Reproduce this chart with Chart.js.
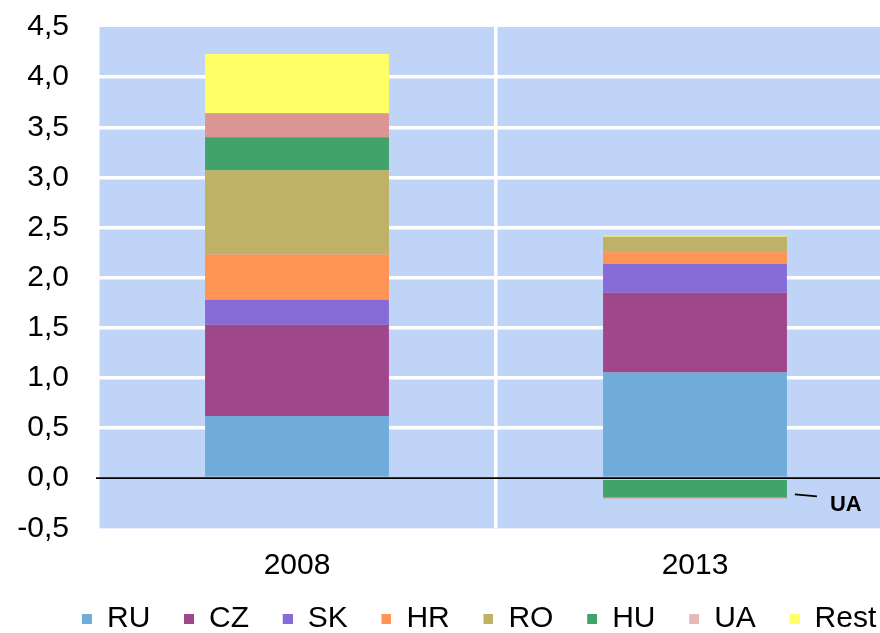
<!DOCTYPE html>
<html>
<head>
<meta charset="utf-8">
<script src="https://cdn.jsdelivr.net/npm/chart.js@4/dist/chart.umd.min.js"></script>
<style>
  html, body { margin: 0; padding: 0; background: #ffffff; overflow: hidden; }
  #wrap { width: 880px; height: 633px; overflow: hidden; position: relative; }
  #c { position: absolute; left: 0; top: 0; }
</style>
</head>
<body>
<div id="wrap"><canvas id="c" width="940" height="644"></canvas></div>
<script>
// ---- data ----
const categories = ['2008', '2013'];
const seriesNames = ['RU', 'CZ', 'SK', 'HR', 'RO', 'HU', 'UA', 'Rest'];
const RU   = [0.62, 1.055];
const CZ   = [0.91, 0.795];
const SK   = [0.25, 0.286];
const HR   = [0.45, 0.117];
const RO   = [0.84, 0.156];
const HU   = [0.33, -0.19];
const UA   = [0.24, -0.012];
const Rest = [0.59, 0.01];
const tickLabels = ['-0,5', '0,0', '0,5', '1,0', '1,5', '2,0', '2,5', '3,0', '3,5', '4,0', '4,5'];
const annotationText = 'UA';

// ---- styles ----
const barColors = ['#6FACD9', '#A0468A', '#876CD8', '#FF9455', '#BFB166', '#41A36A', '#DA9594', '#FFFF66'];
const legendColors = ['#6FACD9', '#A0468A', '#876CD8', '#FF9455', '#BFB166', '#41A36A', '#E8B8B8', '#FFFF66'];
const seriesValues = [RU, CZ, SK, HR, RO, HU, UA, Rest];
const FONT = "'Liberation Sans', Arial, sans-serif";

// legend swatch: an 18x10 slot with a 10x10 square at its right end
function makeSwatch(color) {
  const cv = document.createElement('canvas');
  cv.width = 18; cv.height = 10;
  const g = cv.getContext('2d');
  g.fillStyle = color;
  g.fillRect(8, 0, 10, 10);
  return cv;
}
const swatches = legendColors.map(makeSwatch);

const datasets = seriesNames.map((name, i) => ({
  label: name,
  data: seriesValues[i],
  backgroundColor: barColors[i],
  borderWidth: 0,
  categoryPercentage: 0.462,
  barPercentage: 1.0,
  stack: 's'
}));

const bgPlugin = {
  id: 'plotBg',
  beforeDraw(chart) {
    const { ctx, chartArea: a } = chart;
    ctx.save();
    ctx.fillStyle = '#C0D4F8';
    ctx.fillRect(a.left, a.top, a.right - a.left, a.bottom - a.top);
    ctx.restore();
  }
};

const overlayPlugin = {
  id: 'overlay',
  afterDatasetsDraw(chart) {
    const { ctx, chartArea: a, scales } = chart;
    const y0 = scales.y.getPixelForValue(0);
    ctx.save();
    ctx.strokeStyle = '#000000';
    ctx.lineWidth = 1.7;
    ctx.beginPath();
    ctx.moveTo(a.left - 2, y0);
    ctx.lineTo(a.right, y0);
    ctx.stroke();

    // UA annotation for 2013
    const bar = chart.getDatasetMeta(6).data[1];
    const xs = bar.x + bar.width / 2 + 8;
    const ys = bar.y;
    ctx.lineWidth = 1.8;
    ctx.beginPath();
    ctx.moveTo(xs, ys - 4);
    ctx.lineTo(xs + 22, ys - 2);
    ctx.stroke();
    ctx.fillStyle = '#000000';
    ctx.font = "bold 22px " + FONT;
    ctx.textBaseline = 'middle';
    ctx.textAlign = 'left';
    ctx.fillText(annotationText, xs + 35, ys + 7);
    ctx.restore();
  }
};

new Chart(document.getElementById('c'), {
  type: 'bar',
  data: { labels: categories, datasets },
  options: {
    responsive: false,
    animation: false,
    events: [],
    layout: { padding: { left: 14, right: 3.8, top: 27, bottom: 0 } },
    plugins: {
      tooltip: { enabled: false },
      legend: {
        position: 'bottom',
        labels: {
          font: { family: FONT, size: 30 },
          color: '#000000',
          usePointStyle: true,
          pointStyleWidth: 18,
          boxHeight: 10,
          padding: 25.7,
          generateLabels(chart) {
            const items = Chart.defaults.plugins.legend.labels.generateLabels(chart);
            return items.map((it, i) => Object.assign(it, {
              fillStyle: legendColors[i], strokeStyle: legendColors[i], lineWidth: 0,
              pointStyle: swatches[i]
            }));
          }
        }
      }
    },
    scales: {
      x: {
        stacked: true,
        grid: { display: true, offset: true, color: '#FFFFFF', lineWidth: 3.5, drawTicks: false },
        border: { display: false },
        ticks: { font: { family: FONT, size: 30 }, color: '#000000', padding: 19 },
        afterFit(s) { s.height = 50; }
      },
      y: {
        stacked: true,
        min: -0.5,
        max: 4.5,
        grid: {
          drawTicks: false,
          color(ctx) {
            const v = ctx.tick ? ctx.tick.value : null;
            if (v === null) return '#FFFFFF';
            if (Math.abs(v) < 1e-9 || Math.abs(v + 0.5) < 1e-9 || Math.abs(v - 4.5) < 1e-9) return 'rgba(0,0,0,0)';
            return '#FFFFFF';
          },
          lineWidth: 3.5
        },
        border: { display: false },
        ticks: {
          stepSize: 0.5,
          font: { family: FONT, size: 30 },
          color: '#000000',
          padding: 29,
          callback: (v, i) => tickLabels[i]
        },
        afterFit(s) { s.width = 84; s.paddingTop = 0; s.paddingBottom = 0; }
      },
      y2: {
        position: 'right',
        display: true,
        grid: { display: false },
        border: { display: false },
        ticks: { display: false },
        afterFit(s) { s.width = 42.2; }
      }
    }
  },
  plugins: [bgPlugin, overlayPlugin]
});
</script>
</body>
</html>
